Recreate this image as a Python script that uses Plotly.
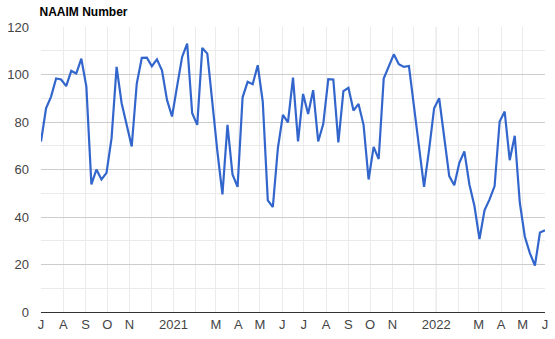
import plotly.graph_objects as go
import pandas as pd

start_date = "2020-07-01"
n_weeks = 101
naaim_values = [
    71.8, 85.8, 90.7, 98.3, 97.9, 95.1, 101.5, 100.4, 106.7, 94.9,
    53.7, 60.0, 55.8, 58.6, 73.2, 103.2, 87.9, 78.5, 69.7, 96.2,
    107.0, 107.1, 103.5, 106.4, 101.8, 89.3, 82.3, 95.0, 107.4, 113.0,
    83.7, 78.8, 111.2, 108.8, 87.5, 67.5, 49.5, 78.8, 57.9, 52.7,
    90.4, 96.9, 95.9, 103.9, 88.6, 47.0, 44.2, 69.0, 83.0, 79.8,
    98.7, 71.8, 91.8, 83.4, 93.4, 71.8, 79.1, 98.0, 97.9, 71.4,
    93.0, 94.4, 84.8, 87.6, 78.8, 55.8, 69.5, 64.4, 98.3, 103.2,
    108.5, 104.3, 103.2, 103.6, 87.0, 70.0, 52.7, 68.3, 85.8, 90.0,
    74.0, 57.2, 53.4, 62.8, 67.6, 53.7, 44.6, 30.7, 42.8, 47.4,
    53.0, 80.2, 84.4, 63.9, 74.2, 46.0, 31.7, 24.8, 19.5, 33.5,
    34.4,
]
dates = pd.date_range(start_date, periods=n_weeks, freq="7D")

month_ticks = pd.date_range("2020-07-01", "2022-06-01", freq="MS")
month_labels = ["J", "A", "S", "O", "N", "", "2021", "", "M", "A", "M", "J",
                "J", "A", "S", "O", "N", "", "2022", "", "M", "A", "M", "J"]
year_lines = ["2021-01-01", "2022-01-01"]
y_ticks = [0, 20, 40, 60, 80, 100, 120]

fig = go.Figure()
fig.add_trace(go.Scatter(
    x=dates, y=naaim_values, mode="lines",
    line=dict(color="#3366CC", width=2.2),
    hoverinfo="x+y",
))

for yl in year_lines:
    fig.add_shape(type="line", xref="x", yref="paper", x0=yl, x1=yl, y0=0, y1=1,
                  line=dict(color="#cccccc", width=1), layer="below")

fig.update_layout(
    width=555, height=339,
    margin=dict(l=39, r=7, t=27, b=24),
    paper_bgcolor="white", plot_bgcolor="white",
    showlegend=False,
    font=dict(family="Liberation Sans, Arial, sans-serif", size=13, color="#444444"),
    title=dict(text="<b>NAAIM Number</b>", x=39.5 / 555, xref="container", xanchor="left",
               y=1 - 12 / 339, yref="container", yanchor="middle",
               font=dict(size=12, color="#000000")),
    xaxis=dict(
        range=["2020-07-01", "2022-06-01"],
        tickmode="array", tickvals=month_ticks, ticktext=month_labels,
        showgrid=True, gridcolor="#ebebeb", gridwidth=1,
        showline=True, linecolor="#333333", linewidth=1,
        ticks="", zeroline=False,
        tickfont=dict(size=13, color="#444444"),
    ),
    yaxis=dict(
        range=[0, 120], tickvals=y_ticks,
        showgrid=True, gridcolor="#cccccc", gridwidth=1,
        minor=dict(dtick=10, showgrid=True, gridcolor="#ebebeb"),
        zeroline=False, showline=False, ticks="",
        ticklabelstandoff=11,
        tickfont=dict(size=13, color="#444444"),
    ),
)

fig.write_html("out.html")
